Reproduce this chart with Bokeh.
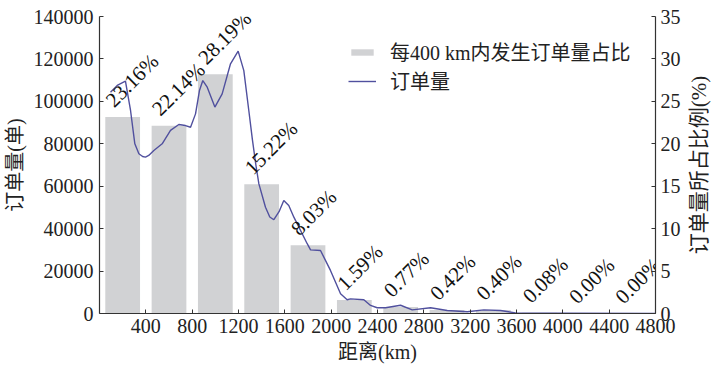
import math
from bokeh.plotting import figure
from bokeh.layouts import row
from bokeh.models import (Range1d, LinearAxis, FixedTicker, Legend, LegendItem,
                          ColumnDataSource, BasicTickFormatter)
from bokeh.core.properties import value
from bokeh.embed import file_html
from bokeh.resources import INLINE

# ---- data ----
bin_centers = [200, 600, 1000, 1400, 1800, 2200, 2600, 3000, 3400, 3800, 4200, 4600]
pct = [23.16, 22.14, 28.19, 15.22, 8.03, 1.59, 0.77, 0.42, 0.40, 0.08, 0.00, 0.00]
pct_labels = ["23.16%", "22.14%", "28.19%", "15.22%", "8.03%", "1.59%",
              "0.77%", "0.42%", "0.40%", "0.08%", "0.00%", "0.00%"]

line_dist = [95, 153, 224, 268, 305, 340, 372, 397, 425, 469, 541, 613, 685, 742, 786, 829, 863,
             892, 930, 996, 1059, 1131, 1197, 1246, 1289, 1320, 1350, 1376, 1433, 1470, 1505,
             1550, 1591, 1634, 1678, 1793, 1822, 1908, 1994, 2081, 2138, 2167, 2282, 2340,
             2397, 2469, 2599, 2700, 2858, 3002, 3175, 3318, 3462, 3592, 3747, 4000, 4800]
line_orders = [104300, 107500, 109500, 95700, 80000, 75300, 74000, 73700, 74500, 76800, 80000, 86300,
               89100, 88600, 87800, 94100, 105100, 109800, 106700, 97300, 103500, 117700,
               123700, 114500, 95700, 82000, 70000, 61100, 50100, 45500, 44200, 48000, 53300, 50900,
               45400, 32900, 30000, 29700, 20300, 9300, 6500, 6900, 6500, 3800, 2700,
               2700, 3900, 1700, 2700, 1400, 800, 1700, 1400, 300, 100, 100, 0]

x_ticks = [400, 800, 1200, 1600, 2000, 2400, 2800, 3200, 3600, 4000, 4400, 4800]
left_ticks = [0, 20000, 40000, 60000, 80000, 100000, 120000, 140000]
right_ticks = [0, 5, 10, 15, 20, 25, 30, 35]

bar_label = "每400 km内发生订单量占比"
line_label = "订单量"
x_title = "距离(km)"
y_title = "订单量(单)"
y2_title = "订单量所占比例(%)"

# ---- styles ----
FONT = "'Liberation Serif', 'Noto Sans CJK SC'"
TXT = "#222222"
AX = "#333333"
BAR_C = "#d1d2d4"
LINE_C = "#50509e"

p = figure(width=683, height=367, output_backend="svg", toolbar_location=None,
           x_range=Range1d(0, 4800), y_range=Range1d(0, 140000),
           min_border_left=99, min_border_right=28, min_border_top=16, min_border_bottom=54)
p.outline_line_color = None
p.xgrid.visible = False
p.ygrid.visible = False
p.background_fill_color = "white"
p.border_fill_color = "white"

p.extra_y_ranges = {"pct": Range1d(0, 35)}

bar_src = ColumnDataSource(dict(x=bin_centers, top=pct, label=pct_labels))
bars = p.vbar(x="x", top="top", width=300, bottom=0, source=bar_src,
              y_range_name="pct", fill_color=BAR_C, line_color=None)

ln = p.line(line_dist, line_orders, line_color=LINE_C, line_width=1.4)

p.text(x="x", y="top", text="label", source=bar_src, y_range_name="pct",
       angle=math.pi / 4, text_align="left", text_baseline="bottom",
       x_offset=-5, y_offset=-5, text_font=value(FONT), text_font_size="21px",
       text_color="#111111")

def style_axis(ax):
    ax.axis_line_color = AX
    ax.axis_line_width = 1.2
    ax.major_tick_line_color = AX
    ax.major_tick_in = 4
    ax.major_tick_out = 0
    ax.minor_tick_line_color = None
    ax.major_label_text_font = FONT
    ax.major_label_text_font_size = "20px"
    ax.major_label_text_color = TXT
    ax.axis_label_text_font = FONT
    ax.axis_label_text_font_size = "20px"
    ax.axis_label_text_font_style = "normal"
    ax.axis_label_text_color = TXT

xa = p.xaxis[0]
style_axis(xa)
xa.ticker = FixedTicker(ticks=x_ticks)
xa.axis_label = x_title
xa.major_label_standoff = 5
xa.axis_label_standoff = 5

ya = p.yaxis[0]
style_axis(ya)
ya.ticker = FixedTicker(ticks=left_ticks)
ya.formatter = BasicTickFormatter(use_scientific=False)
ya.axis_label = y_title
ya.major_label_standoff = 6
ya.axis_label_standoff = 5

ra = LinearAxis(y_range_name="pct", ticker=FixedTicker(ticks=right_ticks))
style_axis(ra)
ra.major_label_standoff = 5
p.add_layout(ra, "right")

legend = Legend(items=[LegendItem(label=bar_label, renderers=[bars]),
                       LegendItem(label=line_label, renderers=[ln])],
                location=(249, 218))
legend.glyph_width = 28
legend.glyph_height = 8
legend.label_height = 20
legend.spacing = -4
legend.label_standoff = 14
legend.padding = 0
legend.margin = 0
legend.border_line_color = None
legend.background_fill_alpha = 0
legend.label_text_font = FONT
legend.label_text_font_size = "20px"
legend.label_text_color = TXT
p.add_layout(legend, "center")

# narrow companion figure carrying the right-hand axis title (reads bottom-to-top)
p2 = figure(width=37, height=367, output_backend="svg", toolbar_location=None,
            x_range=Range1d(0, 1), y_range=Range1d(0, 35),
            min_border_left=20, min_border_right=0, min_border_top=16, min_border_bottom=54)
p2.outline_line_color = None
p2.xgrid.visible = False
p2.ygrid.visible = False
p2.xaxis.visible = False
p2.border_fill_color = "white"
ax2 = p2.yaxis[0]
ax2.ticker = FixedTicker(ticks=[])
ax2.axis_label = y2_title
ax2.axis_label_text_font = FONT
ax2.axis_label_text_font_size = "21px"
ax2.axis_label_text_font_style = "normal"
ax2.axis_label_text_color = TXT
ax2.axis_label_standoff = 0
ax2.major_label_standoff = 0
ax2.major_tick_in = 0
ax2.major_tick_out = 0
ax2.minor_tick_line_color = None
ax2.major_tick_line_color = None
ax2.axis_line_color = None

layout = row(p, p2, spacing=0)
open("out.html", "w").write(file_html(layout, INLINE))
